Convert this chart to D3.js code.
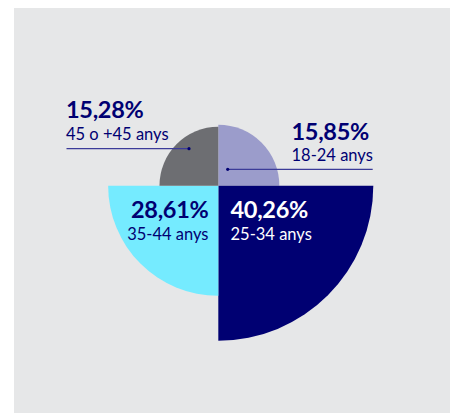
<!DOCTYPE html>
<html><head><meta charset="utf-8">
<script src="https://cdn.jsdelivr.net/npm/d3@7"></script>
<style>
html,body{margin:0;padding:0;background:#fff;}
svg{display:block;}
text{font-family:Lato,"Open Sans",sans-serif;}
</style></head>
<body><svg id="chart" width="450" height="413"></svg>
<script>
// Data
const categories = ["18-24 anys", "25-34 anys", "35-44 anys", "45 o +45 anys"];
const values = [15.85, 40.26, 28.61, 15.28];
const valueLabels = ["15,85%", "40,26%", "28,61%", "15,28%"];
const colors = ["#9b9ccb", "#000072", "#75ebff", "#6d6e72"];

const svg = d3.select("#chart");
svg.append("rect").attr("x", 14).attr("y", 8).attr("width", 436).attr("height", 405).attr("fill", "#e6e7e8");

const cx = 218.3, cy = 185.7;
const r = d3.scaleLinear().domain([0, d3.max(values)]).range([0, 155]);
const angle = d3.scaleBand().domain(categories).range([0, 2 * Math.PI]).padding(0);

const g = svg.append("g").attr("transform", `translate(${cx},${cy})`);
const arc = d3.arc().innerRadius(0)
  .outerRadius((d, i) => r(values[i]))
  .startAngle((d) => angle(d))
  .endAngle((d) => angle(d) + angle.bandwidth());

g.selectAll("path.slice").data(categories).join("path")
  .attr("class", "slice")
  .attr("d", (d, i) => arc(d, i))
  .attr("fill", (d, i) => colors[i]);

// leader lines (18-24 and 45+)
const lineColor = "#3b3b98";
const leaders = [
  {x1: 227.7, x2: 372.7, y: 169.3, dotX: 227.7},
  {x1: 66.5, x2: 189, y: 148.7, dotX: 189}
];
leaders.forEach(l => {
  svg.append("line").attr("x1", l.x1).attr("x2", l.x2).attr("y1", l.y).attr("y2", l.y)
    .attr("stroke", lineColor).attr("stroke-width", 1.2);
  svg.append("circle").attr("cx", l.dotX).attr("cy", l.y).attr("r", 1.6).attr("fill", "#000072");
});

// labels
const labelPos = [
  {x: 291.5, y: 139.5, anchor: "start", color: "#000072"},
  {x: 230.5, y: 218.3, anchor: "start", color: "#ffffff"},
  {x: 208.5, y: 218.3, anchor: "end", color: "#000072"},
  {x: 66, y: 118.3, anchor: "start", color: "#000072"}
];
categories.forEach((c, i) => {
  const p = labelPos[i];
  svg.append("text").attr("x", p.x).attr("y", p.y).attr("text-anchor", p.anchor)
    .attr("fill", p.color).attr("font-size", 23.5).attr("font-weight", 700)
    .attr("letter-spacing", -0.3)
    .text(valueLabels[i]);
  svg.append("text").attr("x", p.x).attr("y", p.y + 21.7).attr("text-anchor", p.anchor)
    .attr("fill", p.color).attr("font-size", 16.5).attr("letter-spacing", 0)
    .text(c);
});
</script></body></html>
